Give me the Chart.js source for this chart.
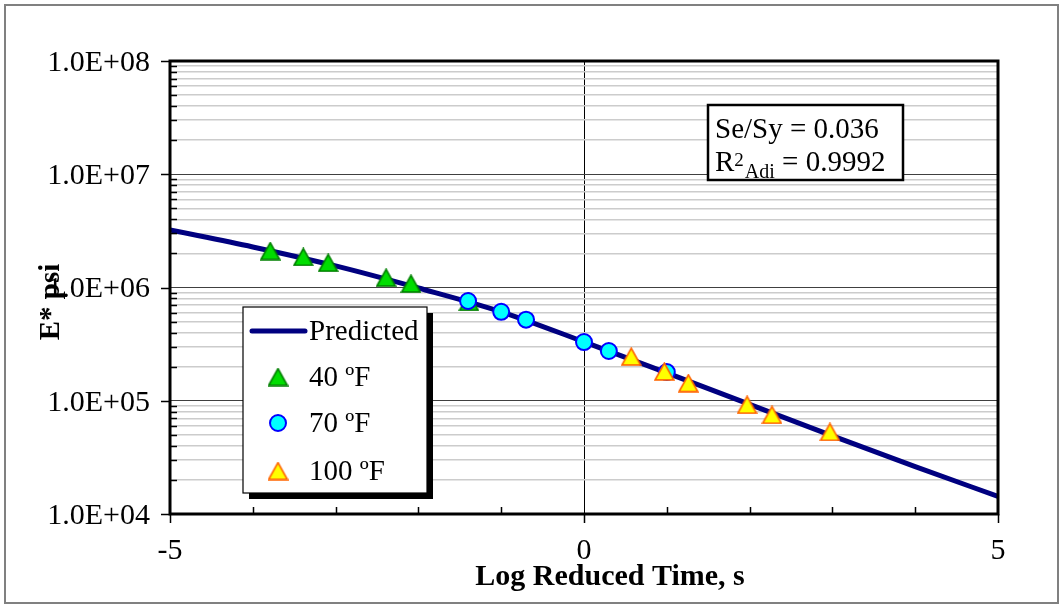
<!DOCTYPE html>
<html>
<head>
<meta charset="utf-8">
<script src="https://cdn.jsdelivr.net/npm/chart.js@4.4.0/dist/chart.umd.min.js"></script>
<style>
  html, body { margin: 0; padding: 0; background: #fff; }
  #wrap { width: 1060px; height: 605px; }
</style>
</head>
<body>
<div id="wrap"><canvas id="master" width="1060" height="605"></canvas></div>
<script>
// Master curve: fitted sigmoid and measured |E*| at three temperatures
const predTime = [-5, -4, -3, -2, -1, 0, 1, 2, 3, 4, 5];
const predModulus = [3.22e6, 2.28e6, 1.55e6, 9.9e5, 6.1e5, 3.31e5, 1.76e5, 9.3e4, 4.9e4, 2.62e4, 1.43e4];

const time40 = [-3.79, -3.39, -3.09, -2.39, -2.09, -1.39];
const mod40 = [2.10e6, 1.86e6, 1.65e6, 1.22e6, 1.08e6, 7.45e5];

const time70 = [-1.40, -1.00, -0.70, 0.00, 0.30, 1.00];
const mod70 = [7.6e5, 6.1e5, 5.2e5, 3.3e5, 2.75e5, 1.79e5];

const time100 = [0.57, 0.97, 1.26, 1.97, 2.27, 2.97];
const mod100 = [2.45e5, 1.81e5, 1.43e5, 9.2e4, 7.5e4, 5.3e4];

const seriesLabels = ['Predicted', '40 ºF', '70 ºF', '100 ºF'];

// axis ticks
const xTicks = [-5, -4, -3, -2, -1, 0, 1, 2, 3, 4, 5];
const xMajor = [-5, 0, 5];
const xTickLabels = ['-5', '0', '5'];
const yDecades = [1e4, 1e5, 1e6, 1e7, 1e8];
const yTickLabels = ['1.0E+04', '1.0E+05', '1.0E+06', '1.0E+07', '1.0E+08'];
const yMinorSteps = [2, 3, 4, 5, 6, 7, 8, 9];

const xTitle = 'Log Reduced Time, s';
const yTitle = 'E* psi';
const seSy = '0.036';
const r2Adj = '0.9992';

const SERIF = '"Liberation Serif", "Times New Roman", serif';

const yTicks = [];
yDecades.forEach((d, i) => {
  yTicks.push(d);
  if (i < yDecades.length - 1) yMinorSteps.forEach(m => yTicks.push(m * d));
});

const isDecade = v => Math.abs(Math.log10(v) - Math.round(Math.log10(v))) < 1e-9;
const toPoints = (xs, ys) => xs.map((x, i) => ({ x: x, y: ys[i] }));

// triangle marker, centred on its bounding box
function triangleMarker(fill, stroke) {
  const c = document.createElement('canvas');
  c.width = 21; c.height = 19;
  const g = c.getContext('2d');
  g.beginPath();
  g.moveTo(10.5, 1.2);
  g.lineTo(19.8, 17.8);
  g.lineTo(1.2, 17.8);
  g.closePath();
  g.fillStyle = fill;
  g.fill();
  g.lineWidth = 1.7;
  g.strokeStyle = stroke;
  g.stroke();
  return c;
}

const tri40 = triangleMarker('#00dd00', '#008000');
const tri100 = triangleMarker('#ffff00', '#ff6600');

const axisFrame = {
  id: 'axisFrame',
  beforeDraw(chart) {
    const ctx = chart.ctx;
    ctx.save();
    ctx.fillStyle = '#fff';
    ctx.fillRect(0, 0, chart.width, chart.height);
    ctx.restore();
  },
  afterDraw(chart) {
    const ctx = chart.ctx;
    const a = chart.chartArea;
    const xs = chart.scales.x, ys = chart.scales.y;
    ctx.save();

    // outer border
    ctx.strokeStyle = '#808080';
    ctx.lineWidth = 2;
    ctx.strokeRect(5, 5, 1053, 598);

    // tick marks
    ctx.strokeStyle = '#000';
    ctx.lineWidth = 1.5;
    ctx.beginPath();
    yTicks.forEach(v => {
      const py = Math.round(ys.getPixelForValue(v)) + 0.5;
      if (isDecade(v)) { ctx.moveTo(a.left - 9, py); ctx.lineTo(a.left, py); }
      else { ctx.moveTo(a.left, py); ctx.lineTo(a.left + 7, py); }
    });
    xTicks.forEach(v => {
      const px = Math.round(xs.getPixelForValue(v)) + 0.5;
      if (xMajor.includes(v)) { ctx.moveTo(px, a.bottom); ctx.lineTo(px, a.bottom + 9); }
      else { ctx.moveTo(px, a.bottom); ctx.lineTo(px, a.bottom - 7); }
    });
    ctx.stroke();

    // plot frame
    ctx.lineWidth = 3;
    ctx.strokeRect(a.left, a.top, a.right - a.left, a.bottom - a.top);

    // tick labels
    ctx.fillStyle = '#000';
    ctx.font = '30px ' + SERIF;
    ctx.textAlign = 'right';
    ctx.textBaseline = 'middle';
    yDecades.forEach((v, i) => {
      ctx.fillText(yTickLabels[i], a.left - 20, ys.getPixelForValue(v) + 2);
    });
    ctx.textAlign = 'center';
    xMajor.forEach((v, i) => {
      ctx.fillText(xTickLabels[i], xs.getPixelForValue(v), a.bottom + 37);
    });

    // axis titles
    ctx.font = 'bold 30px ' + SERIF;
    ctx.textBaseline = 'alphabetic';
    ctx.fillText(xTitle, (a.left + a.right) / 2 + 26, a.bottom + 71);
    ctx.font = 'bold 29px ' + SERIF;
    ctx.save();
    ctx.translate(59, 302);
    ctx.rotate(-Math.PI / 2);
    ctx.fillText(yTitle, 0, 0);
    ctx.restore();

    // legend with drop shadow
    const lx = a.left + 73, ly = a.top + 246, lw = 184, lh = 186;
    ctx.fillStyle = '#000';
    ctx.fillRect(lx + 6, ly + 6, lw, lh);
    ctx.fillStyle = '#fff';
    ctx.fillRect(lx, ly, lw, lh);
    ctx.strokeStyle = '#000';
    ctx.lineWidth = 1.2;
    ctx.strokeRect(lx, ly, lw, lh);

    const rows = [ly + 24, ly + 70, ly + 116, ly + 164];
    ctx.strokeStyle = '#000080';
    ctx.lineWidth = 5;
    ctx.lineCap = 'round';
    ctx.beginPath();
    ctx.moveTo(lx + 9, rows[0]);
    ctx.lineTo(lx + 62, rows[0]);
    ctx.stroke();

    const mx = lx + 35;
    ctx.drawImage(tri40, mx - tri40.width / 2, rows[1] - tri40.height / 2);
    ctx.beginPath();
    ctx.arc(mx, rows[2], 8, 0, Math.PI * 2);
    ctx.fillStyle = '#00ffff';
    ctx.fill();
    ctx.lineWidth = 2;
    ctx.strokeStyle = '#0000ff';
    ctx.stroke();
    ctx.drawImage(tri100, mx - tri100.width / 2, rows[3] - tri100.height / 2);

    ctx.fillStyle = '#000';
    ctx.font = '29px ' + SERIF;
    ctx.textAlign = 'left';
    ctx.textBaseline = 'middle';
    seriesLabels.forEach((t, i) => ctx.fillText(t, lx + 66, rows[i] + 1));

    // fit statistics box
    const bx = a.left + 538, by = a.top + 44, bw = 195, bh = 75;
    ctx.fillStyle = '#fff';
    ctx.fillRect(bx, by, bw, bh);
    ctx.strokeStyle = '#000';
    ctx.lineWidth = 2.5;
    ctx.strokeRect(bx, by, bw, bh);

    ctx.fillStyle = '#000';
    ctx.textBaseline = 'alphabetic';
    ctx.font = '29px ' + SERIF;
    ctx.fillText('Se/Sy = ' + seSy, bx + 7, by + 33);
    let tx = bx + 7;
    const base2 = by + 66;
    ctx.fillText('R', tx, base2);
    tx += ctx.measureText('R').width;
    ctx.font = '19px ' + SERIF;
    ctx.fillText('2', tx, base2 - 5);
    tx += ctx.measureText('2').width + 1;
    ctx.font = '20px ' + SERIF;
    ctx.fillText('Adi', tx, base2 + 7);
    tx += ctx.measureText('Adi').width;
    ctx.font = '29px ' + SERIF;
    ctx.fillText(' = ' + r2Adj, tx, base2);

    ctx.restore();
  }
};

new Chart(document.getElementById('master').getContext('2d'), {
  type: 'scatter',
  data: {
    datasets: [
      {
        label: seriesLabels[0],
        data: toPoints(predTime, predModulus),
        showLine: true,
        borderColor: '#000080',
        borderWidth: 5,
        pointRadius: 0,
        pointHoverRadius: 0,
        cubicInterpolationMode: 'monotone',
        order: 4
      },
      {
        label: seriesLabels[1],
        data: toPoints(time40, mod40),
        pointStyle: tri40,
        order: 3
      },
      {
        label: seriesLabels[2],
        data: toPoints(time70, mod70),
        pointStyle: 'circle',
        pointRadius: 8,
        backgroundColor: '#00ffff',
        borderColor: '#0000ff',
        borderWidth: 2,
        order: 2
      },
      {
        label: seriesLabels[3],
        data: toPoints(time100, mod100),
        pointStyle: tri100,
        order: 1
      }
    ]
  },
  options: {
    responsive: false,
    animation: false,
    events: [],
    layout: { padding: { left: 170, top: 61, right: 62, bottom: 91 } },
    plugins: {
      legend: { display: false },
      tooltip: { enabled: false }
    },
    scales: {
      x: {
        type: 'linear',
        min: -5,
        max: 5,
        afterBuildTicks: s => { s.ticks = xTicks.map(v => ({ value: v })); },
        ticks: { display: false },
        border: { display: false },
        grid: {
          drawTicks: false,
          lineWidth: 1,
          color: c => (c.tick && c.tick.value === 0) ? '#000' : 'rgba(0,0,0,0)'
        }
      },
      y: {
        type: 'logarithmic',
        min: 1e4,
        max: 1e8,
        afterBuildTicks: s => { s.ticks = yTicks.map(v => ({ value: v })); },
        ticks: { display: false },
        border: { display: false },
        grid: {
          drawTicks: false,
          lineWidth: c => (c.tick && isDecade(c.tick.value)) ? 1 : 1.5,
          color: c => (c.tick && isDecade(c.tick.value)) ? '#404040' : '#cccccc'
        }
      }
    }
  },
  plugins: [axisFrame]
});
</script>
</body>
</html>
